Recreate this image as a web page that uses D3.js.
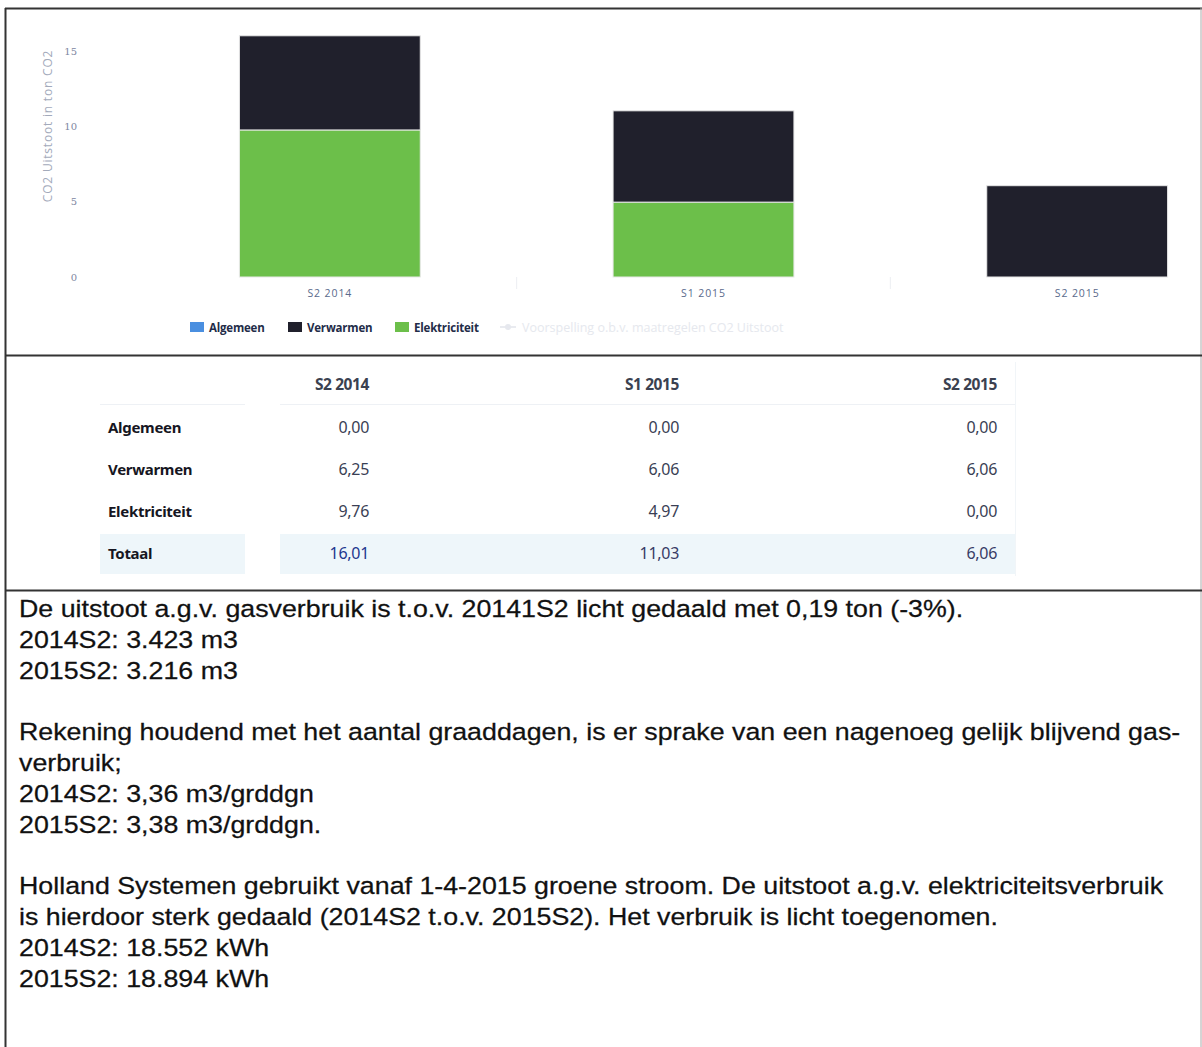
<!DOCTYPE html>
<html>
<head>
<meta charset="utf-8">
<script src="https://cdn.jsdelivr.net/npm/d3@7"></script>
<style>
  html, body { margin: 0; padding: 0; background: #fff; }
  svg { display: block; }
</style>
</head>
<body>
<svg id="page" width="1202" height="1047"></svg>
<script>
// Half-year periods and CO2 emissions (ton CO2) per source
const categories = ["S2 2014", "S1 2015", "S2 2015"];
const algemeen = [0.00, 0.00, 0.00];
const verwarmen = [6.25, 6.06, 6.06];
const elektriciteit = [9.76, 4.97, 0.00];
const totaal = [16.01, 11.03, 6.06];
const yTicks = [0, 5, 10, 15];

const seriesNames = ["Algemeen", "Verwarmen", "Elektriciteit"];
const seriesColors = ["#4a8fe0", "#20202c", "#6cbf4a"];
const forecastLabel = "Voorspelling o.b.v. maatregelen CO2 Uitstoot";
const yTitle = "CO2 Uitstoot in ton CO2";

// Explanatory notes below the table, one entry per printed line
const notes = [
  "De uitstoot a.g.v. gasverbruik is t.o.v. 20141S2 licht gedaald met 0,19 ton (-3%).",
  "2014S2: 3.423 m3",
  "2015S2: 3.216 m3",
  "",
  "Rekening houdend met het aantal graaddagen, is er sprake van een nagenoeg gelijk blijvend gas-",
  "verbruik;",
  "2014S2: 3,36 m3/grddgn",
  "2015S2: 3,38 m3/grddgn.",
  "",
  "Holland Systemen gebruikt vanaf 1-4-2015 groene stroom. De uitstoot a.g.v. elektriciteitsverbruik",
  "is hierdoor sterk gedaald (2014S2 t.o.v. 2015S2). Het verbruik is licht toegenomen.",
  "2014S2: 18.552 kWh",
  "2015S2: 18.894 kWh"
];

const nl = d3.formatLocale({ decimal: ",", thousands: ".", grouping: [3], currency: ["€", ""] });
const fmt2 = nl.format(".2f");

const svg = d3.select("#page");

// ---------- frame ----------
const frame = svg.append("g").attr("fill", "none").attr("stroke", "#333");
frame.append("line").attr("x1", 5).attr("x2", 1202).attr("y1", 8.5).attr("y2", 8.5).attr("stroke-width", 2);
frame.append("line").attr("x1", 5.5).attr("x2", 5.5).attr("y1", 8).attr("y2", 1047).attr("stroke-width", 2);
frame.append("line").attr("x1", 1201).attr("x2", 1201).attr("y1", 8).attr("y2", 1047).attr("stroke-width", 1).attr("stroke", "#aaa");
frame.append("line").attr("x1", 5).attr("x2", 1202).attr("y1", 355.5).attr("y2", 355.5).attr("stroke-width", 2);
frame.append("line").attr("x1", 5).attr("x2", 1202).attr("y1", 590.5).attr("y2", 590.5).attr("stroke-width", 2);

// ---------- stacked column chart ----------
const chartFont = "'Open Sans', 'DejaVu Sans', sans-serif";
const x = d3.scaleBand().domain(categories).range([143, 1264]).paddingInner(0.516).paddingOuter(0.258);
const y = d3.scaleLinear().domain([0, 15]).range([277, 51]);

const rows = categories.map((c, i) => ({
  cat: c, Algemeen: algemeen[i], Verwarmen: verwarmen[i], Elektriciteit: elektriciteit[i]
}));
const stack = d3.stack().keys(["Elektriciteit", "Verwarmen", "Algemeen"]);
const stacked = stack(rows);
const colorOf = d3.scaleOrdinal().domain(seriesNames).range(seriesColors);

const chart = svg.append("g");

// faint category separators on the baseline
chart.append("g").selectAll("line")
  .data(categories.slice(1))
  .join("line")
  .attr("x1", d => x(d) - x.step() * x.paddingInner() / 2)
  .attr("x2", d => x(d) - x.step() * x.paddingInner() / 2)
  .attr("y1", y(0)).attr("y2", y(0) + 12)
  .attr("stroke", "#eceef2").attr("stroke-width", 1);

chart.append("g").selectAll("g")
  .data(stacked)
  .join("g")
  .attr("fill", d => colorOf(d.key))
  .selectAll("rect")
  .data(d => d.filter(p => p[1] - p[0] > 0))
  .join("rect")
  .attr("x", d => x(d.data.cat))
  .attr("width", x.bandwidth())
  .attr("y", d => y(d[1]))
  .attr("height", d => y(d[0]) - y(d[1]))
  .attr("stroke", "#e8e8e8")
  .attr("stroke-width", 1);

// y axis (labels only)
const yAxis = d3.axisLeft(y).tickValues(yTicks).tickSize(0).tickPadding(0);
const yg = chart.append("g").attr("transform", "translate(77,0)").call(yAxis);
yg.select(".domain").remove();
yg.selectAll("text")
  .attr("font-family", "'DejaVu Serif', serif")
  .attr("font-size", 10)
  .attr("fill", "#80879f")
  .attr("dy", "0.32em");

chart.append("text")
  .attr("transform", `translate(52,${(y(0) + y(15)) / 2 - 38}) rotate(-90)`)
  .attr("text-anchor", "middle")
  .attr("font-family", chartFont)
  .attr("font-size", 12)
  .attr("letter-spacing", 0.8)
  .attr("fill", "#a3aabb")
  .text(yTitle);

// x axis labels
const xAxis = d3.axisBottom(x).tickSize(0).tickPadding(0);
const xg = chart.append("g").attr("transform", `translate(0,${y(0) + 13})`).call(xAxis);
xg.select(".domain").remove();
xg.selectAll("text")
  .attr("font-family", chartFont)
  .attr("font-size", 10.5)
  .attr("letter-spacing", 0.9)
  .attr("fill", "#5a6a8c");

// legend
const legend = chart.append("g").attr("font-family", chartFont).attr("font-size", 11.5).attr("font-weight", 700);
const legendX = [190, 288, 395];
seriesNames.forEach((name, i) => {
  const g = legend.append("g").attr("transform", `translate(${legendX[i]},322)`);
  g.append("rect").attr("width", 14).attr("height", 10).attr("fill", seriesColors[i]);
  g.append("text").attr("x", 19).attr("y", 9.5).attr("fill", "#232c48").attr("letter-spacing", -0.2).text(name);
});
const fc = legend.append("g").attr("transform", "translate(500,322)").attr("opacity", 0.85);
fc.append("line").attr("x1", 0).attr("x2", 16).attr("y1", 5).attr("y2", 5).attr("stroke", "#e6e8ee").attr("stroke-width", 2);
fc.append("circle").attr("cx", 8).attr("cy", 5).attr("r", 3).attr("fill", "#e2e5ec");
fc.append("text").attr("x", 22).attr("y", 9.5).attr("font-weight", 400).attr("font-size", 12.5)
  .attr("fill", "#e2e5ec").text(forecastLabel);

// ---------- data table ----------
const tableFont = "'Noto Sans', 'Open Sans', sans-serif";
const colRight = [369, 679, 997];
const table = svg.append("g").attr("font-family", tableFont);

// shaded total row and separator lines
table.append("rect").attr("x", 100).attr("y", 534).attr("width", 145).attr("height", 40).attr("fill", "#eef6fa");
table.append("rect").attr("x", 280).attr("y", 534).attr("width", 735).attr("height", 40).attr("fill", "#eef6fa");
table.append("line").attr("x1", 100).attr("x2", 245).attr("y1", 404.5).attr("y2", 404.5).attr("stroke", "#eef1f5");
table.append("line").attr("x1", 280).attr("x2", 1015).attr("y1", 404.5).attr("y2", 404.5).attr("stroke", "#eef1f5");
table.append("line").attr("x1", 1015.5).attr("x2", 1015.5).attr("y1", 362).attr("y2", 576).attr("stroke", "#f1f5f8");

table.append("g").selectAll("text")
  .data(categories)
  .join("text")
  .attr("x", (d, i) => colRight[i])
  .attr("y", 390)
  .attr("text-anchor", "end")
  .attr("font-size", 15.5)
  .attr("font-weight", 700)
  .attr("letter-spacing", -0.4)
  .attr("fill", "#3b4150")
  .text(d => d);

const tableRows = [
  { label: "Algemeen", values: algemeen },
  { label: "Verwarmen", values: verwarmen },
  { label: "Elektriciteit", values: elektriciteit },
  { label: "Totaal", values: totaal }
];
const rowY = d3.scalePoint().domain(tableRows.map(r => r.label)).range([433, 559]);

const rg = table.append("g").selectAll("g")
  .data(tableRows)
  .join("g")
  .attr("transform", d => `translate(0,${rowY(d.label)})`);
rg.append("text")
  .attr("x", 108)
  .attr("font-size", 15)
  .attr("font-weight", 700)
  .attr("letter-spacing", -0.3)
  .attr("fill", "#161622")
  .text(d => d.label);
rg.selectAll("text.v")
  .data(d => d.values.map(v => ({ v, total: d.label === "Totaal" })))
  .join("text")
  .attr("class", "v")
  .attr("x", (d, i) => colRight[i])
  .attr("text-anchor", "end")
  .attr("font-size", 16)
  .attr("letter-spacing", -0.3)
  .attr("fill", (d, i) => d.total ? (i === 0 ? "#23388f" : "#383c66") : "#3a3f55")
  .text(d => fmt2(d.v));

// ---------- notes (printed slightly wide) ----------
svg.append("g")
  .attr("transform", "translate(19,0) scale(1.14,1)")
  .attr("font-family", "'Liberation Sans', Arial, sans-serif")
  .attr("font-size", 23.5)
  .attr("fill", "#111")
  .attr("stroke", "#111")
  .attr("stroke-width", 0.25)
  .selectAll("text")
  .data(notes)
  .join("text")
  .attr("x", 0)
  .attr("y", (d, i) => 617 + i * 30.8)
  .text(d => d);
</script>
</body>
</html>
